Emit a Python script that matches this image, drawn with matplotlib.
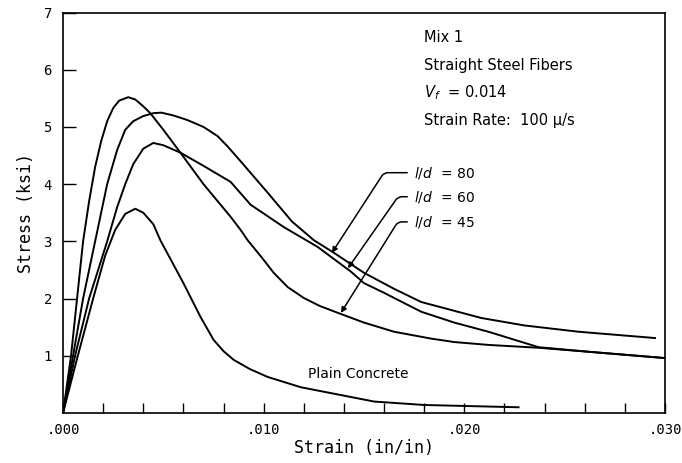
import matplotlib
matplotlib.use("Agg")
import matplotlib.pyplot as plt
from matplotlib.ticker import MultipleLocator

# Curvas (deformacion en in/in, esfuerzo en ksi)
strain_45 = [0, 0.0004, 0.0007, 0.0010, 0.0013, 0.0016, 0.0019, 0.0022, 0.0025,
             0.0028, 0.00325, 0.0036, 0.0040, 0.00435, 0.0050, 0.00585, 0.0070,
             0.00835, 0.00885, 0.0092, 0.0099, 0.0105, 0.0112, 0.0120, 0.0128,
             0.0137, 0.0150, 0.0165, 0.01835, 0.0195, 0.0212, 0.0237, 0.0262, 0.0300]
stress_45 = [0, 1.0, 2.0, 3.0, 3.7, 4.3, 4.75, 5.1, 5.33,
             5.46, 5.52, 5.48, 5.36, 5.24, 4.95, 4.55, 4.0,
             3.43, 3.2, 3.02, 2.72, 2.45, 2.2, 2.01, 1.87,
             1.75, 1.58, 1.42, 1.30, 1.24, 1.19, 1.14, 1.07, 0.96]

strain_80 = [0, 0.0005, 0.0010, 0.0016, 0.0022, 0.0027, 0.0031, 0.0035, 0.0040,
             0.0045, 0.0049, 0.0055, 0.0062, 0.0070, 0.0077, 0.0082, 0.00885,
             0.0102, 0.0114, 0.0125, 0.0135, 0.0150, 0.0165, 0.01785, 0.02085,
             0.0230, 0.0257, 0.0295]
stress_80 = [0, 1.0, 2.0, 3.0, 4.0, 4.6, 4.95, 5.1, 5.19,
             5.24, 5.25, 5.2, 5.12, 5.0, 4.84, 4.66, 4.4,
             3.85, 3.35, 3.02, 2.8, 2.45, 2.17, 1.94, 1.66,
             1.53, 1.42, 1.31]

strain_60 = [0, 0.0006, 0.0013, 0.0022, 0.0027, 0.0031, 0.0035, 0.0040, 0.0045,
             0.0050, 0.00585, 0.0070, 0.00835, 0.00935, 0.0110, 0.0127, 0.01435,
             0.0150, 0.0160, 0.01785, 0.0195, 0.0212, 0.0237, 0.0262, 0.0300]
stress_60 = [0, 1.0, 2.0, 3.0, 3.6, 4.0, 4.35, 4.62, 4.72,
             4.68, 4.55, 4.32, 4.04, 3.64, 3.25, 2.90, 2.47,
             2.27, 2.1, 1.77, 1.58, 1.42, 1.15, 1.07, 0.96]

strain_plain = [0, 0.0007, 0.0015, 0.0021, 0.0026, 0.0031, 0.0036, 0.0040, 0.0045,
                0.00485, 0.0060, 0.00685, 0.0075, 0.0080, 0.0085, 0.0093, 0.0102,
                0.01185, 0.0139, 0.0155, 0.0180, 0.0227]
stress_plain = [0, 0.95, 2.0, 2.75, 3.2, 3.48, 3.57, 3.5, 3.3,
                3.02, 2.27, 1.68, 1.28, 1.08, 0.93, 0.77, 0.63,
                0.45, 0.31, 0.20, 0.14, 0.10]

x_ticks = [0.0, 0.010, 0.020, 0.030]
x_tick_labels = [".000", ".010", ".020", ".030"]
y_ticks = [1, 2, 3, 4, 5, 6, 7]

info_lines = ["Mix 1", "Straight Steel Fibers", r"$V_f$  = 0.014", "Strain Rate:  100 \u03bc/s"]


def main():
    fig = plt.figure(figsize=(6.82, 4.63), dpi=100)
    ax = fig.add_axes([0.0924, 0.108, 0.8827, 0.865])

    lw = 1.4
    ax.plot(strain_80, stress_80, color="black", lw=lw)
    ax.plot(strain_60, stress_60, color="black", lw=lw)
    ax.plot(strain_45, stress_45, color="black", lw=lw)
    ax.plot(strain_plain, stress_plain, color="black", lw=lw)

    ax.set_xlim(0, 0.030)
    ax.set_ylim(0, 7)

    ax.set_xticks(x_ticks)
    ax.set_xticklabels(x_tick_labels, family="DejaVu Sans Mono")
    ax.xaxis.set_minor_locator(MultipleLocator(0.002))
    ax.set_yticks(y_ticks)
    ax.set_yticklabels([str(v) for v in y_ticks], family="DejaVu Sans Mono")
    ax.tick_params(axis="x", which="both", direction="in", length=7, width=1, labelsize=10, pad=7)
    ax.tick_params(axis="y", which="both", direction="in", length=9, width=1, labelsize=10, pad=8)

    for sp in ax.spines.values():
        sp.set_linewidth(1.2)

    ax.set_xlabel("Strain (in/in)", fontsize=12, family="DejaVu Sans Mono", labelpad=2)
    ax.set_ylabel("Stress (ksi)", fontsize=12, family="DejaVu Sans Mono", labelpad=6)

    # Bloque de texto arriba a la derecha
    for i, line in enumerate(info_lines):
        ax.text(0.018, 6.56 - i * 0.48, line, fontsize=10.5, family="DejaVu Sans",
                ha="left", va="center")

    # Etiquetas l/d con flechas
    labels = [(r"$l/d$  = 80", 4.2, (0.0134, 2.80), 57),
              (r"$l/d$  = 60", 3.78, (0.0142, 2.53), 55),
              (r"$l/d$  = 45", 3.34, (0.01385, 1.75), 58)]
    for txt, ty, tip, ang in labels:
        ax.annotate(txt, xy=tip, xytext=(0.0175, ty), fontsize=10,
                    family="DejaVu Sans", ha="left", va="center",
                    arrowprops=dict(arrowstyle="-|>", color="black", lw=1.1,
                                    mutation_scale=8, shrinkA=3, shrinkB=0,
                                    relpos=(0, 0.5),
                                    connectionstyle="angle,angleA=0,angleB=%d,rad=4" % ang))

    ax.text(0.0122, 0.68, "Plain Concrete", fontsize=10, family="DejaVu Sans",
            ha="left", va="center")

    fig.savefig("out.png", dpi=100)
    plt.close(fig)


if __name__ == "__main__":
    main()
